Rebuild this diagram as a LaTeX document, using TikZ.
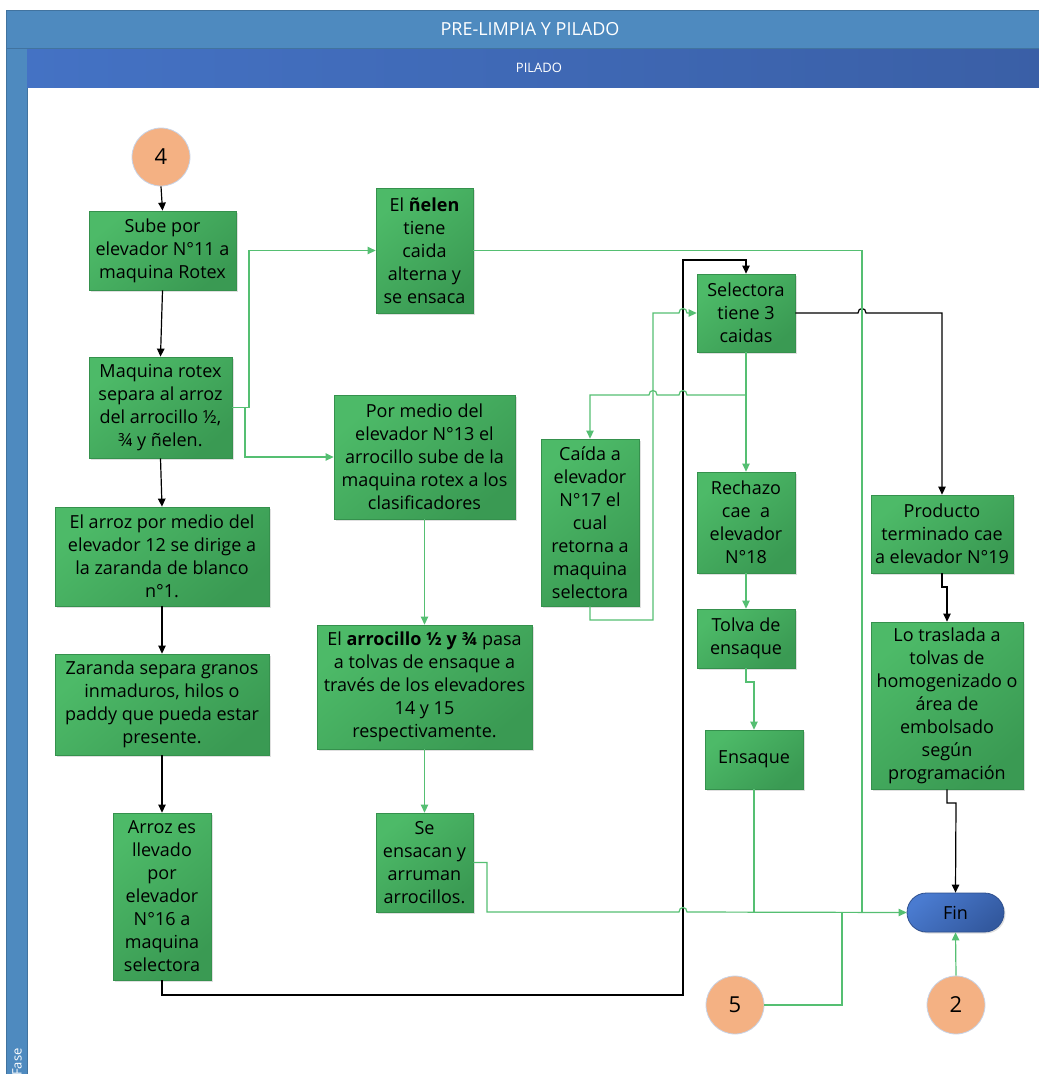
\documentclass[tikz,border=0pt]{standalone}
\usepackage{fontspec}
\setmainfont{Open Sans}
\usetikzlibrary{arrows.meta,shadows}

\definecolor{hdr}{HTML}{4E8ABF}
\definecolor{hdredge}{HTML}{41739F}
\definecolor{subA}{HTML}{4472C4}
\definecolor{subB}{HTML}{3A5FA6}
\definecolor{boxA}{HTML}{4DBA68}
\definecolor{boxB}{HTML}{3A9A53}
\definecolor{boxE}{HTML}{35914D}
\definecolor{gln}{HTML}{55BF72}
\definecolor{peach}{HTML}{F4B183}
\definecolor{ring}{HTML}{C8D3E6}
\definecolor{finA}{HTML}{4A7BD0}
\definecolor{finB}{HTML}{33599F}
\definecolor{finE}{HTML}{2D4F8E}

\begin{document}
\begin{tikzpicture}[x=1pt,y=-1pt,
  box/.style={draw=boxE, line width=0.8pt, top color=boxA, bottom color=boxB,
    shading angle=40, inner sep=0pt, align=center,
    font=\fontsize{18}{23}\selectfont,
    drop shadow={shadow xshift=1.5pt, shadow yshift=-1.5pt, opacity=0.25, fill=black!50}},
  onpage/.style={circle, fill=peach, draw=ring, line width=0.8pt,
    minimum size=58pt, inner sep=0pt, font=\fontsize{22}{26}\selectfont},
  terminal/.style={rectangle, rounded corners=19.5pt, minimum width=97pt,
    minimum height=39pt, top color=finA, bottom color=finB, shading angle=40,
    draw=finE, line width=0.8pt, font=\fontsize{18}{23}\selectfont,
    drop shadow={shadow xshift=1.5pt, shadow yshift=-1.5pt, opacity=0.25, fill=black!50}},
  blk/.style={black, line width=1.2pt},
  grn/.style={gln, line width=1.2pt},
  arr/.style={-{Triangle[length=8pt,width=7.5pt]}}
]
\useasboundingbox (0,0) rectangle (1039,1074);
\clip (0,0) rectangle (1039,1074);

% swimlane frame
\filldraw[fill=hdr, draw=hdredge, line width=0.6pt] (6,10) rectangle (1045,48);
\filldraw[fill=hdr, draw=hdredge, line width=0.6pt] (6,48) rectangle (27,1080);
\shade[left color=subA, right color=subB] (27,49) rectangle (1045,87);
\node[text=white, font=\fontsize{18}{22}\selectfont] (title) at (530,29) {PRE-LIMPIA Y PILADO};
\node[text=white, font=\fontsize{13}{15}\selectfont] (lane) at (539,68) {PILADO};
\node[text=white, rotate=90, anchor=west, inner sep=0pt,
  font=\fontsize{13}{15}\selectfont] (fase) at (17,1076) {Fase};

% process steps
\node[onpage] (c4) at (161,157) {4};
\node[box, minimum width=147, minimum height=79] (a) at (162.5,250.5) {Sube por\\elevador N°11 a\\maquina Rotex};
\node[box, minimum width=143, minimum height=101] (b) at (160.5,407.5) {Maquina rotex\\separa al arroz\\del arrocillo ½,\\¾ y ñelen.};
\node[box, minimum width=214, minimum height=99] (c) at (162,556.5) {El arroz por medio del\\elevador 12 se dirige a\\la zaranda de blanco\\n°1.};
\node[box, minimum width=214, minimum height=101] (d) at (162,704.5) {Zaranda separa granos\\inmaduros, hilos o\\paddy que pueda estar\\presente.};
\node[box, minimum width=98, minimum height=167] (e) at (162,896.5) {Arroz es\\llevado\\por\\elevador\\N°16 a\\maquina\\selectora};
\node[box, minimum width=97, minimum height=125] (f) at (424.5,250.5) {El \textbf{ñelen}\\tiene\\caida\\alterna y\\se ensaca};
\node[box, minimum width=181, minimum height=124] (g) at (424.5,457) {Por medio del\\elevador N°13 el\\arrocillo sube de la\\maquina rotex a los\\clasificadores};
\node[box, minimum width=215, minimum height=124] (h) at (424.5,687) {El \textbf{arrocillo ½ y ¾} pasa\\a tolvas de ensaque a\\través de los elevadores\\14 y 15\\respectivamente.};
\node[box, minimum width=97, minimum height=99] (i) at (424.5,862.5) {Se\\ensacan y\\arruman\\arrocillos.};
\node[box, minimum width=98, minimum height=78] (j) at (746,313) {Selectora\\tiene 3\\caidas};
\node[box, minimum width=98, minimum height=167] (k) at (590,522.5) {Caída a\\elevador\\N°17 el\\cual\\retorna a\\maquina\\selectora};
\node[box, minimum width=98, minimum height=101] (l) at (746,522.5) {Rechazo\\cae\ \ a\\elevador\\N°18};
\node[box, minimum width=142, minimum height=78] (m) at (942,534) {Producto\\terminado cae\\a elevador N°19};
\node[box, minimum width=98, minimum height=59] (n) at (746,638.5) {Tolva de\\ensaque};
\node[box, minimum width=98, minimum height=59] (o) at (754,759.5) {Ensaque};
\node[box, minimum width=152, minimum height=167] (p) at (947,705.5) {Lo traslada a\\tolvas de\\homogenizado o\\área de\\embolsado\\según\\programación};
\node[terminal] (fin) at (955.5,912.5) {Fin};
\node[onpage] (c5) at (735,1005) {5};
\node[onpage] (c2) at (956,1005) {2};

% main (black) flow
\draw[blk,arr] (c4.south) -- (a.north);
\draw[blk,arr] (a.south) -- (b.north);
\draw[blk,arr] (b.south) -- (c.north);
\draw[blk,arr] (c.south) -- (d.north);
\draw[blk,arr] (d.south) -- (e.north);
\draw[blk,arr] (e.south) -- (162,995) -- (683,995) -- (683,260) -- (746,260) -- (j.north);
\draw[blk,arr] (j.east) -- (858,313) .. controls (858,307) and (866,307) .. (866,313) -- (942,313) -- (m.north);
\draw[blk,arr] (m.south) -- (942,587) -- (947,587) -- (p.north);
\draw[blk,arr] (p.south) -- (947,803) -- (956,803) -- (fin.north);

% secondary (green) flows
\draw[grn,arr] (b.east) -- (249,407.5) -- (249,250.5) -- (f.west);
\draw[grn,arr] (b.east) -- (245,407.5) -- (245,457) -- (g.west);
\draw[grn] (f.east) -- (862,250.5) -- (862,912);
\draw[grn,arr] (g.south) -- (h.north);
\draw[grn,arr] (h.south) -- (i.north);
\draw[grn,arr] (i.east) -- (487,862.5) -- (487,912) -- (679,912)
  .. controls (679,906) and (687,906) .. (687,912) -- (fin.west);
\draw[grn,arr] (j.south) -- (l.north);
\draw[grn,arr] (j.south) -- (746,395) -- (687,395)
  .. controls (687,389) and (679,389) .. (679,395) -- (657,395)
  .. controls (657,389) and (649,389) .. (649,395) -- (590,395) -- (k.north);
\draw[grn,arr] (k.south) -- (590,620) -- (653,620) -- (653,313) -- (679,313)
  .. controls (679,307) and (687,307) .. (687,313) -- (j.west);
\draw[grn,arr] (l.south) -- (n.north);
\draw[grn,arr] (n.south) -- (746,682) -- (754,682) -- (o.north);
\draw[grn] (o.south) -- (754,912);
\draw[grn] (c5.east) -- (842,1005) -- (842,912);
\draw[grn,arr] (c2.north) -- (fin.south);
\end{tikzpicture}
\end{document}
